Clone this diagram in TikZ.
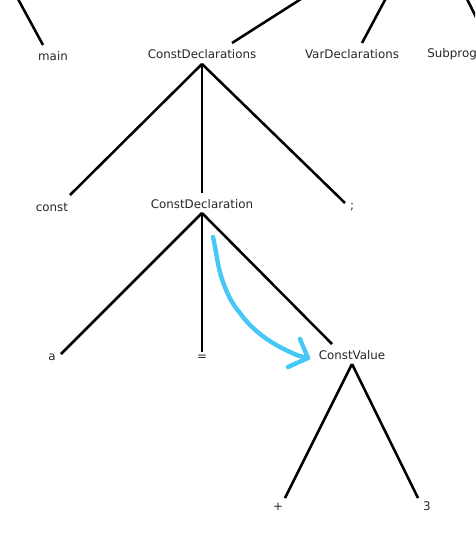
\documentclass[tikz,border=0pt]{standalone}
\usepackage{fontspec}
\setmainfont{DejaVu Sans}
\begin{document}
\begin{tikzpicture}[x=0.75pt,y=-0.75pt,
  lbl/.style={inner sep=0pt,font=\fontsize{8.9}{10}\selectfont,text=black!85},
  edge/.style={line width=1.9pt,black},
  hand/.style={line width=3.3pt,color={rgb,255:red,69;green,200;blue,245},line cap=round,line join=round}]
\useasboundingbox (0,0) rectangle (475,535);
\clip (0,0) rectangle (475,535);
% labels
\node[lbl] (main) at (53,56) {main};
\node[lbl] (cds) at (202,54) {ConstDeclarations};
\node[lbl] (vds) at (352,54) {VarDeclarations};
\node[lbl,anchor=west] (sub) at (427,54) {SubprogramDeclarations};
\node[lbl] (const) at (52,207) {const};
\node[lbl] (cd) at (202,204) {ConstDeclaration};
\node[lbl] (semi) at (352,207) {;};
\node[lbl] (a) at (52,357) {a};
\node[lbl] (eq) at (202,358) {=};
\node[lbl] (cv) at (352,355) {ConstValue};
\node[lbl] (plus) at (278,507) {+};
\node[lbl] (three) at (427,506) {3};
% edge end points
\coordinate (p1) at (18,-1);
\coordinate (p2) at (301,-1);
\coordinate (p3) at (385.5,-1);
\coordinate (p4) at (467,-1);
\coordinate (main-t) at (43,45);
\coordinate (cds-t) at (232,43);
\coordinate (vds-t) at (362,43);
\coordinate (sub-t) at (477,19);
\coordinate (cds-b) at (202,64);
\coordinate (const-t) at (70,195);
\coordinate (cd-t) at (202,193);
\coordinate (semi-t) at (345,203);
\coordinate (cd-b) at (202,213);
\coordinate (a-t) at (61,354);
\coordinate (eq-t) at (202,352);
\coordinate (cv-t) at (332,344);
\coordinate (cv-b) at (352,364);
\coordinate (plus-t) at (285,498);
\coordinate (three-t) at (418,498);
% edges
\draw[edge] (p1) -- (main-t);
\draw[edge] (p2) -- (cds-t);
\draw[edge] (p3) -- (vds-t);
\draw[edge] (p4) -- (sub-t);
\draw[edge] (cds-b) -- (const-t);
\draw[edge] (cds-b) -- (cd-t);
\draw[edge] (cds-b) -- (semi-t);
\draw[edge] (cd-b) -- (a-t);
\draw[edge] (cd-b) -- (eq-t);
\draw[edge] (cd-b) -- (cv-t);
\draw[edge] (cv-b) -- (plus-t);
\draw[edge] (cv-b) -- (three-t);
% hand-drawn arrow
\coordinate (h0) at (213,237);
\coordinate (tip) at (308,358);
\coordinate (bar1) at (300,339);
\coordinate (bar2) at (288,367);
\draw[hand] (h0) .. controls (216,250) and (217,262) .. (221,276)
  .. controls (226,292) and (232,304) .. (240,313)
  .. controls (252,330) and (270,343) .. (290,352)
  .. controls (296,355) and (302,357) .. (tip);
\draw[hand] (bar1) -- (tip) -- (bar2);
\end{tikzpicture}
\end{document}
